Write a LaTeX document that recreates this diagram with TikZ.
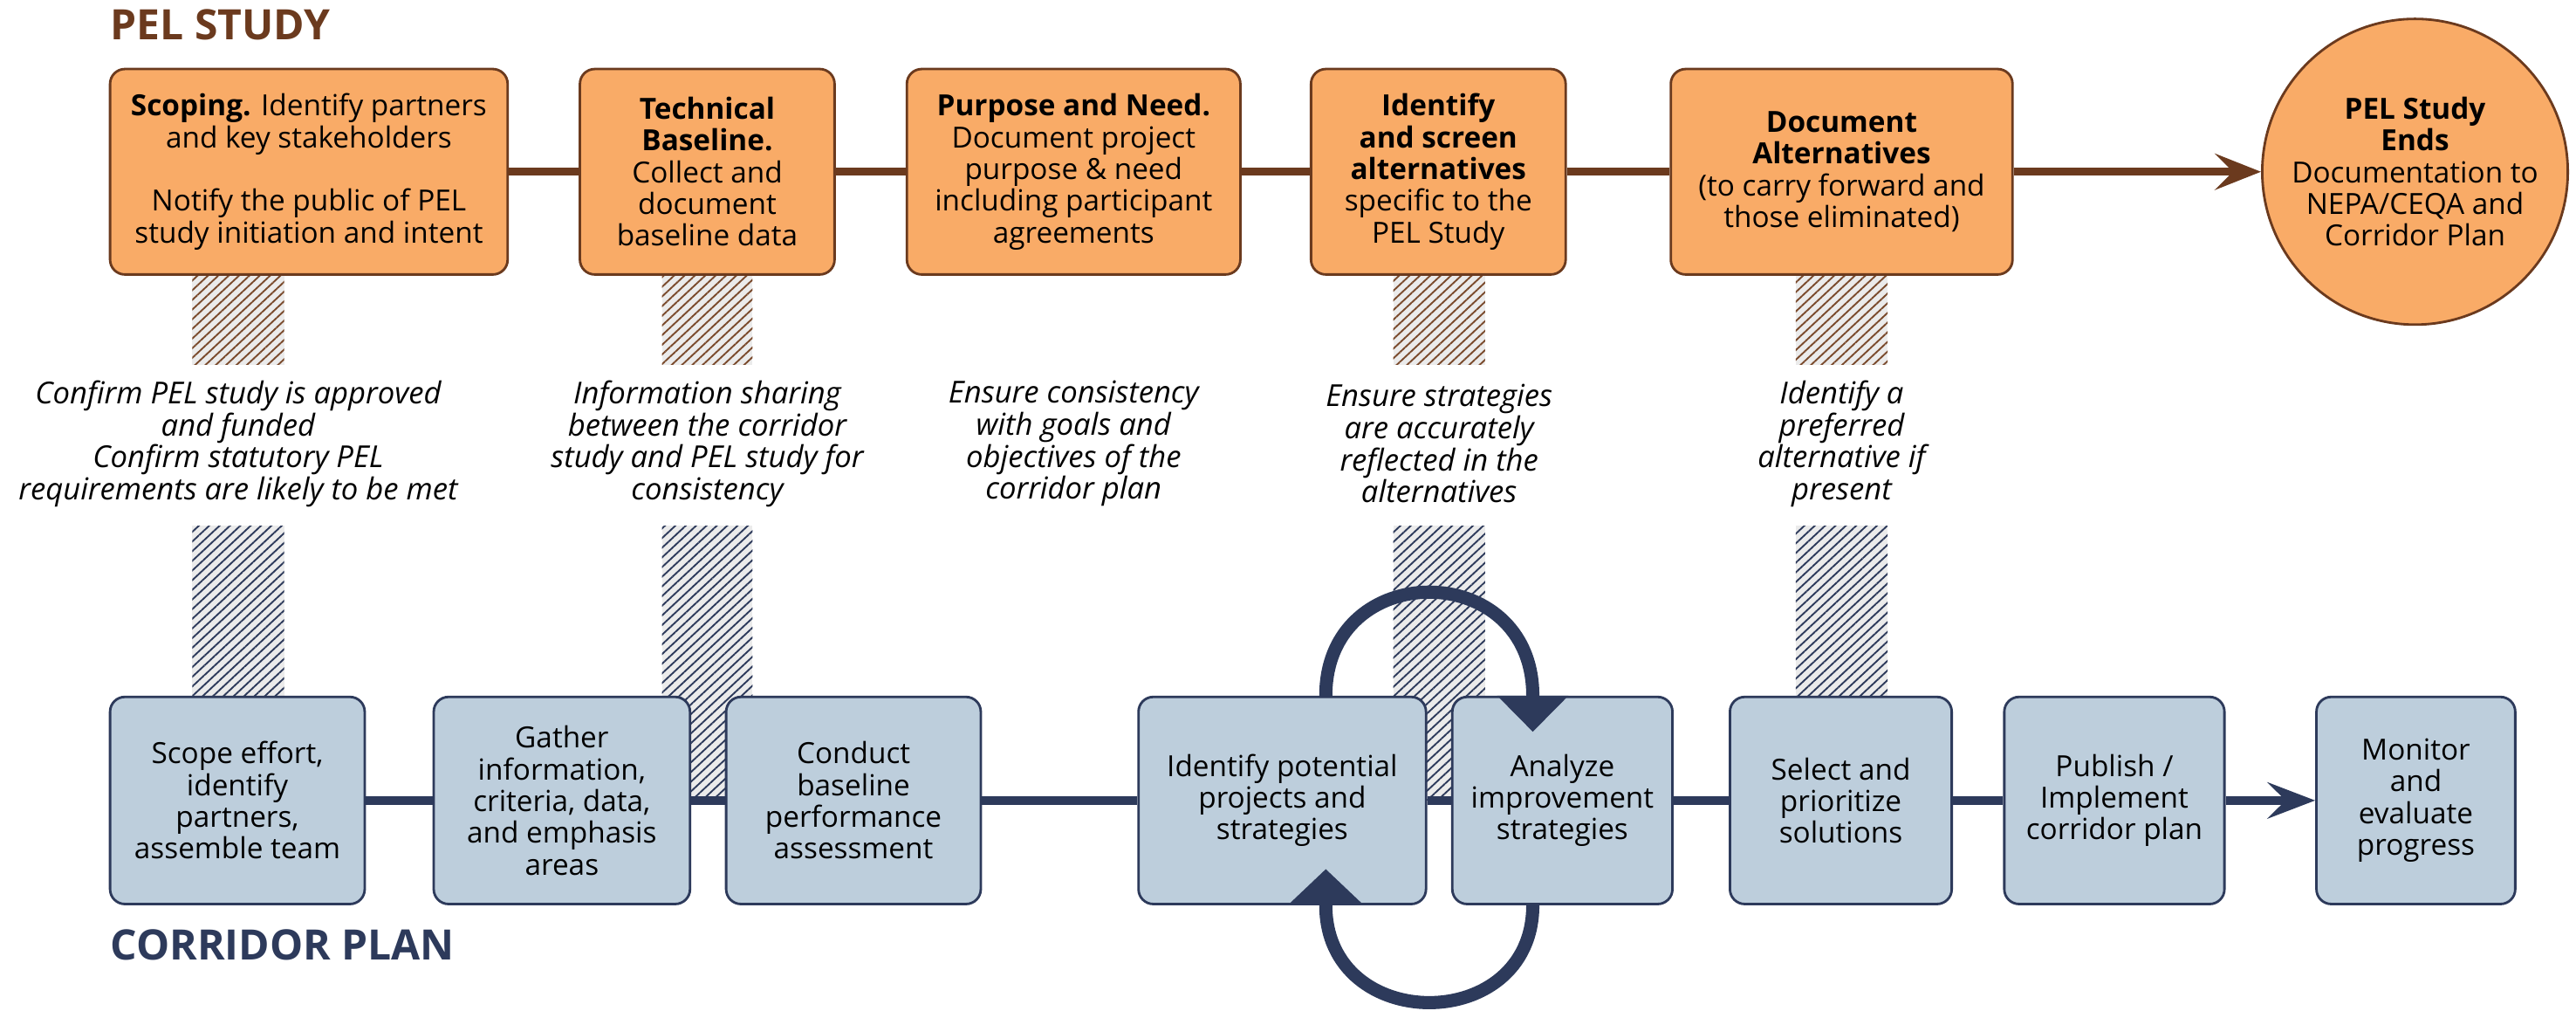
\documentclass[tikz,border=0pt]{standalone}
\usepackage{fontspec}
\setmainfont{Open Sans}
\usetikzlibrary{arrows.meta,patterns.meta}
\definecolor{pelfill}{HTML}{F9AB67}
\definecolor{pelbrown}{HTML}{6B3A1E}
\definecolor{cpfill}{HTML}{BDCEDC}
\definecolor{cpnavy}{HTML}{2D3A5B}
\definecolor{hatchbg}{HTML}{EBEBEB}
\definecolor{hatchbrown}{HTML}{7A4A2C}
\begin{document}
\begin{tikzpicture}[x=1pt,y=-1pt,
  txt/.style={font=\fontsize{17.7}{19.3}\selectfont, align=center},
  pelbox/.style={txt, draw=pelbrown, fill=pelfill, line width=1.5pt, rounded corners=9pt, inner sep=0pt, minimum height=125pt},
  cpbox/.style={txt, draw=cpnavy, fill=cpfill, line width=1.5pt, rounded corners=9pt, inner sep=0pt, minimum height=126pt},
  note/.style={align=center, font=\fontsize{18.4}{19.5}\selectfont\itshape, inner sep=0pt},
  pelline/.style={draw=pelbrown, line width=5pt},
  cpline/.style={draw=cpnavy, line width=5pt},
  loopline/.style={draw=cpnavy, line width=8pt},
  hatchup/.style={fill=hatchbg, postaction={pattern={Lines[angle=43,distance=4.3pt,line width=1pt]}, pattern color=hatchbrown}},
  hatchdown/.style={fill=hatchbg, postaction={pattern={Lines[angle=43,distance=4.3pt,line width=1pt]}, pattern color=cpnavy}},
  title/.style={font=\fontsize{25.5}{28}\selectfont\bfseries, anchor=base west, inner sep=0pt}
]
\useasboundingbox (0,0) rectangle (1568,615);

% hatched bars
\path[hatchup] (117,166) rectangle (173,222);
\path[hatchup] (403,166) rectangle (458,222);
\path[hatchup] (848,166) rectangle (904,222);
\path[hatchup] (1093,166) rectangle (1149,222);
\path[hatchdown] (117,320) rectangle (173,487);
\path[hatchdown] (403,320) rectangle (458,487);
\path[hatchdown] (848,320) rectangle (904,487);
\path[hatchdown] (1093,320) rectangle (1149,487);

% top row
\node[pelbox, minimum width=242pt] (B1) at (188,104.5) {\textbf{Scoping.} Identify partners\\and key stakeholders\\[19.3pt]Notify the public of PEL\\study initiation and intent};
\node[pelbox, minimum width=155pt] (B2) at (430.5,104.5) {\textbf{Technical}\\\textbf{Baseline.}\\Collect and\\document\\baseline data};
\node[pelbox, minimum width=203pt] (B3) at (653.5,104.5) {\textbf{Purpose and Need.}\\Document project\\purpose \& need\\including participant\\agreements};
\node[pelbox, minimum width=155pt] (B4) at (875.5,104.5) {\textbf{Identify}\\\textbf{and screen}\\\textbf{alternatives}\\specific to the\\PEL Study};
\node[pelbox, minimum width=208pt] (B5) at (1121,104.5) {\textbf{Document}\\\textbf{Alternatives}\\(to carry forward and\\those eliminated)};
\node[txt, circle, draw=pelbrown, fill=pelfill, line width=1.5pt, inner sep=0pt, minimum size=186pt] (E) at (1470,104.5) {\textbf{PEL Study}\\\textbf{Ends}\\Documentation to\\NEPA/CEQA and\\Corridor Plan};

% bottom row
\node[cpbox, minimum width=155pt] (C1) at (144.5,487) {Scope effort,\\identify\\partners,\\assemble team};
\node[cpbox, minimum width=156pt] (C2) at (342,487) {Gather\\information,\\criteria, data,\\and emphasis\\areas};
\node[cpbox, minimum width=155pt] (C3) at (519.5,487) {Conduct\\baseline\\performance\\assessment};
\node[cpbox, minimum width=175pt] (C4) at (780.5,487) {Identify potential\\projects and\\strategies};
\node[cpbox, minimum width=134pt] (C5) at (951,487) {Analyze\\improvement\\strategies};
\node[cpbox, minimum width=135pt] (C6) at (1120.5,487) {Select and\\prioritize\\solutions};
\node[cpbox, minimum width=134pt] (C7) at (1287,487) {Publish /\\Implement\\corridor plan};
\node[cpbox, minimum width=121pt] (C8) at (1470.5,487) {Monitor\\and\\evaluate\\progress};

% connectors
\draw[pelline] (B1.east) -- (B2.west);
\draw[pelline] (B2.east) -- (B3.west);
\draw[pelline] (B3.east) -- (B4.west);
\draw[pelline] (B4.east) -- (B5.west);
\draw[pelline, -{Stealth[length=28pt,width=22pt,inset=11pt]}] (B5.east) -- (E.west);
\draw[cpline] (C1.east) -- (C2.west);
\draw[cpline] (C2.east) -- (C3.west);
\draw[cpline] (C3.east) -- (C4.west);
\draw[cpline] (C4.east) -- (C5.west);
\draw[cpline] (C5.east) -- (C6.west);
\draw[cpline] (C6.east) -- (C7.west);
\draw[cpline, -{Stealth[length=29pt,width=22pt,inset=11pt]}] (C7.east) -- (C8.west);

% loops
\draw[loopline, -{Triangle[length=22pt,width=42pt]}] ([xshift=26.5pt]C4.north) .. controls +(0,-84) and +(0,-84) .. ([xshift=-18pt]C5.north) -- ([xshift=-18pt,yshift=-22pt]C5.north);
\draw[loopline, -{Triangle[length=22pt,width=45pt]}] ([xshift=-18pt]C5.south) .. controls +(0,79) and +(0,79) .. ([xshift=26.5pt]C4.south) -- ([xshift=26.5pt,yshift=22pt]C4.south);

% notes
\node[note] (N1) at (145,270) {Confirm PEL study is approved\\and funded\\Confirm statutory PEL\\requirements are likely to be met};
\node[note] (N2) at (430.5,270) {Information sharing\\between the corridor\\study and PEL study for\\consistency};
\node[note] (N3) at (653.5,270) {Ensure consistency\\with goals and\\objectives of the\\corridor plan};
\node[note] (N4) at (876,270) {Ensure strategies\\are accurately\\reflected in the\\alternatives};
\node[note] (N5) at (1121,270) {Identify a\\preferred\\alternative if\\present};

% titles
\node[title, text=pelbrown] (T1) at (67,24) {PEL STUDY};
\node[title, text=cpnavy] (T2) at (67,584) {CORRIDOR PLAN};
\end{tikzpicture}
\end{document}
